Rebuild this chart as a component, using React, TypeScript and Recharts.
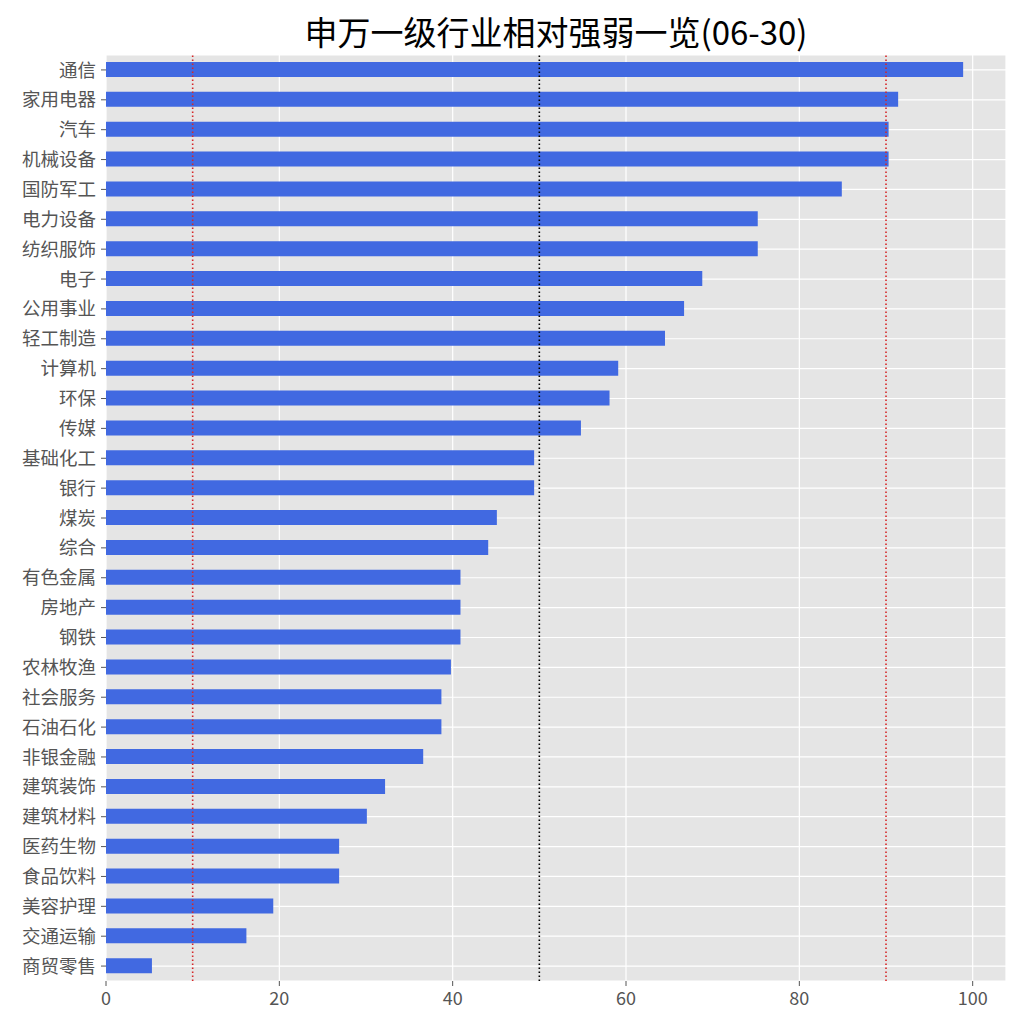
import React from 'react';
import { BarChart, Bar, XAxis, YAxis, CartesianGrid, ReferenceLine } from 'recharts';

// 行业名称（从上到下）
const industries = [
  '通信', '家用电器', '汽车', '机械设备', '国防军工', '电力设备', '纺织服饰', '电子',
  '公用事业', '轻工制造', '计算机', '环保', '传媒', '基础化工', '银行', '煤炭',
  '综合', '有色金属', '房地产', '钢铁', '农林牧渔', '社会服务', '石油石化', '非银金融',
  '建筑装饰', '建筑材料', '医药生物', '食品饮料', '美容护理', '交通运输', '商贸零售',
];

// 相对强弱值
const strength = [
  98.9, 91.4, 90.3, 90.3, 84.9, 75.2, 75.2, 68.8,
  66.7, 64.5, 59.1, 58.1, 54.8, 49.4, 49.4, 45.1,
  44.1, 40.9, 40.9, 40.9, 39.8, 38.7, 38.7, 36.6,
  32.2, 30.1, 26.9, 26.9, 19.3, 16.2, 5.3,
];

const xTicks = [0, 20, 40, 60, 80, 100];
const lowLine = 10;
const midLine = 50;
const highLine = 90;

const chartData = industries.map((name, i) => ({ name, value: strength[i] }));
const xMax = Math.max(...strength) * 1.05;

const font = '"Noto Sans CJK SC", "DejaVu Sans", sans-serif';

export default function App() {
  return (
    <div style={{ position: 'absolute', left: 0, top: 0, width: 1024, height: 1024, background: '#fff', fontFamily: font }}>
      <div
        style={{
          position: 'absolute',
          left: 106,
          width: 900,
          top: 10,
          textAlign: 'center',
          fontSize: 33,
          lineHeight: '42px',
          color: '#000',
        }}
      >
        申万一级行业相对强弱一览(06-30)
      </div>
      <BarChart
        width={1024}
        height={1024}
        data={chartData}
        layout="vertical"
        margin={{ top: 55, right: 18, bottom: 13, left: 0 }}
        barCategoryGap={0}
      >
        <CartesianGrid fill="#e5e5e5" stroke="#ffffff" strokeWidth={1.2} />
        <XAxis
          type="number"
          domain={[0, xMax]}
          ticks={xTicks}
          height={30}
          axisLine={false}
          tickLine={{ stroke: '#555555' }}
          tickSize={5}
          tickMargin={6}
          tick={{ fill: '#555555', fontSize: 18, fontFamily: font }}
          allowDataOverflow
        />
        <YAxis
          type="category"
          dataKey="name"
          width={106}
          axisLine={false}
          tickLine={{ stroke: '#555555' }}
          tickSize={5}
          tickMargin={5}
          interval={0}
          tick={{ fill: '#555555', fontSize: 18.5, fontFamily: font }}
        />
        <Bar dataKey="value" fill="#4169e1" barSize={15} isAnimationActive={false} />
        <ReferenceLine x={lowLine} stroke="#d62728" strokeWidth={1.6} strokeDasharray="1.6 2.4" />
        <ReferenceLine x={midLine} stroke="#000000" strokeWidth={1.6} strokeDasharray="1.6 2.4" />
        <ReferenceLine x={highLine} stroke="#d62728" strokeWidth={1.6} strokeDasharray="1.6 2.4" />
      </BarChart>
    </div>
  );
}
